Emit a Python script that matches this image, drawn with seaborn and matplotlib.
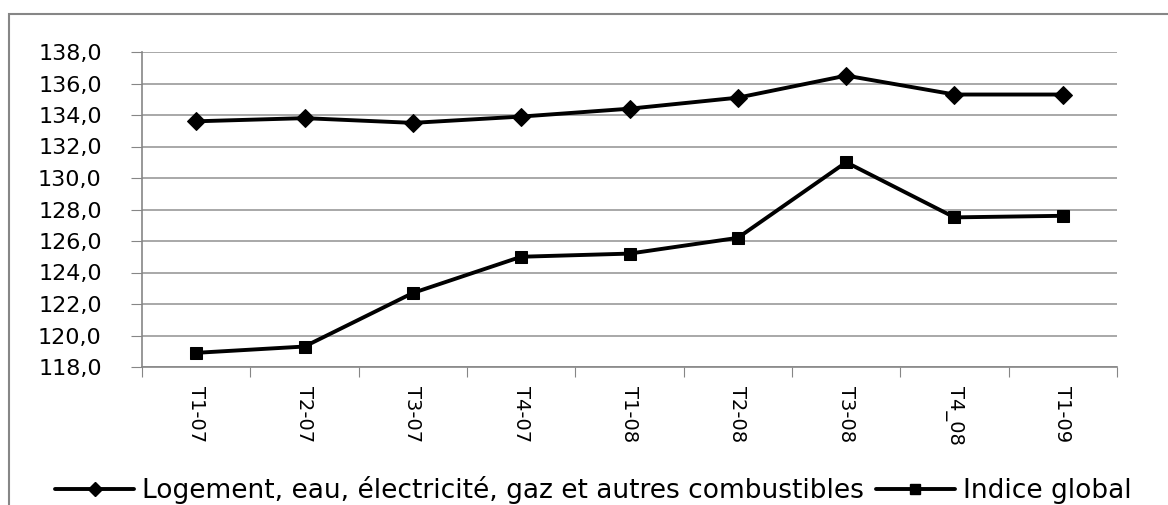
import pandas as pd
import numpy as np
import matplotlib.pyplot as plt
import seaborn as sns
from matplotlib.ticker import FuncFormatter
from matplotlib.patches import Rectangle

# données
trimestres = ['T1-07', 'T2-07', 'T3-07', 'T4-07', 'T1-08', 'T2-08', 'T3-08', 'T4_08', 'T1-09']
logement = [133.6, 133.8, 133.5, 133.9, 134.4, 135.1, 136.5, 135.3, 135.3]
indice_global = [118.9, 119.3, 122.7, 125.0, 125.2, 126.2, 131.0, 127.5, 127.6]
nom_logement = 'Logement, eau, électricité, gaz et autres combustibles'
nom_global = 'Indice global'

df = pd.DataFrame({
    'Trimestre': trimestres * 2,
    'Valeur': logement + indice_global,
    'Serie': [nom_logement] * len(trimestres) + [nom_global] * len(trimestres),
})

sns.set_style('white')
plt.rcParams['font.family'] = ['DejaVu Sans']
plt.rcParams['text.color'] = 'black'
plt.rcParams['xtick.labelcolor'] = 'black'
plt.rcParams['ytick.labelcolor'] = 'black'

fig = plt.figure(figsize=(11.68, 5.05), dpi=100)
ax = fig.add_axes([142 / 1168, 1 - 367 / 505, (1117 - 142) / 1168, (367 - 52) / 505])

# cadre du graphique (coupé à droite et en bas)
fig.patches.append(Rectangle((9 / 1168, -0.1), 1.2, 1 - 14 / 505 + 0.1,
                             transform=fig.transFigure, fill=False,
                             edgecolor='#868686', linewidth=1.5, zorder=0))

sns.lineplot(data=df, x='Trimestre', y='Valeur', hue='Serie', style='Serie',
             palette=['black', 'black'], markers={nom_logement: 'D', nom_global: 's'},
             dashes=False, linewidth=2.8, markersize=9, markeredgecolor='black',
             sort=False, ax=ax, legend=False)

ax.set_xlim(-0.5, len(trimestres) - 0.5)
ax.set_ylim(118, 138)
ax.set_yticks(np.arange(118, 139, 2))
ax.yaxis.set_major_formatter(FuncFormatter(lambda v, p: f'{v:.1f}'.replace('.', ',')))
ax.set_xticks(np.arange(len(trimestres) + 1) - 0.5, minor=False)
ax.set_xticklabels([])
ax.set_xticks(np.arange(len(trimestres)), minor=True)
ax.set_xticklabels(trimestres, minor=True, rotation=270, fontsize=14)
ax.tick_params(axis='x', which='minor', length=0, pad=14)
ax.tick_params(axis='x', which='major', length=7, color='#868686', direction='out', bottom=True)
ax.tick_params(axis='y', length=8, color='#868686', direction='out', left=True, labelsize=16, pad=21)
ax.set_xlabel('')
ax.set_ylabel('')

ax.grid(axis='y', color='#9a9a9a', linewidth=1.2)
ax.grid(axis='x', visible=False)
for s in ['top', 'right']:
    ax.spines[s].set_visible(False)
for s in ['left', 'bottom']:
    ax.spines[s].set_color('#868686')
    ax.spines[s].set_linewidth(1.2)

h1 = plt.Line2D([], [], color='black', lw=2.8, marker='D', markersize=7)
h2 = plt.Line2D([], [], color='black', lw=2.8, marker='s', markersize=7)
fig.legend([h1, h2], [nom_logement, nom_global], loc='center', ncol=2,
           bbox_to_anchor=(0.508, 1 - 490 / 505), frameon=False, fontsize=19,
           handlelength=3.0, handletextpad=0.3, columnspacing=0.45)

fig.savefig('out.png', dpi=100)
